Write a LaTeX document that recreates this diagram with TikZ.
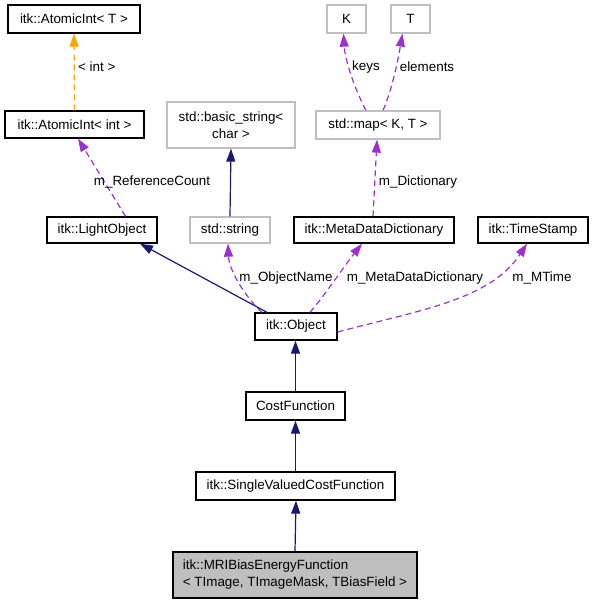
\documentclass[tikz,border=0pt]{standalone}
\usepackage{fontspec}
\setmainfont{Liberation Sans}
\usetikzlibrary{arrows.meta}
\definecolor{navyc}{HTML}{191970}
\definecolor{purp}{HTML}{9A32CD}
\definecolor{orng}{HTML}{FFA500}
\definecolor{lgray}{HTML}{BFBFBF}
\definecolor{fillg}{HTML}{BFBFBF}
\begin{document}
\begin{tikzpicture}[x=1pt,y=-1pt,
  every node/.style={font=\fontsize{13.4}{17}\selectfont},
  cls/.style={draw=black,line width=1.3pt,inner sep=0pt,align=center},
  ext/.style={draw=lgray,line width=1.3pt,inner sep=0pt,align=center},
  lbl/.style={inner sep=0pt},
  inh/.style={-{Triangle[length=13pt,width=9pt,fill=navyc]},draw=navyc,line width=1.2pt},
  use/.style={-{Triangle[length=13pt,width=9pt,fill=purp]},draw=purp,line width=1.2pt,dash pattern=on 6pt off 4pt},
  tmpl/.style={-{Triangle[length=13pt,width=9pt,fill=orng]},draw=orng,line width=1.2pt,dash pattern=on 6pt off 4pt}]
\useasboundingbox (0,0) rectangle (593,605);
% nodes
\node[cls,minimum width=132pt,minimum height=28pt] (ati) at (74,19) {itk::AtomicInt< T >};
\node[cls,minimum width=139pt,minimum height=27pt] (aint) at (74.5,124.5) {itk::AtomicInt< int >};
\node[ext,minimum width=128pt,minimum height=46pt] (bstr) at (231,125) {std::basic\_string<\\char >};
\node[ext,minimum width=39pt,minimum height=28pt] (K) at (346.5,19) {K};
\node[ext,minimum width=39pt,minimum height=28pt] (T) at (410.5,19) {T};
\node[ext,minimum width=124pt,minimum height=28pt] (map) at (378,125) {std::map< K, T >};
\node[cls,minimum width=110pt,minimum height=26pt] (light) at (102,230) {itk::LightObject};
\node[ext,minimum width=80pt,minimum height=26pt] (str) at (230,230) {std::string};
\node[cls,minimum width=160pt,minimum height=26pt] (mdd) at (374,230) {itk::MetaDataDictionary};
\node[cls,minimum width=110pt,minimum height=26pt] (ts) at (533,230) {itk::TimeStamp};
\node[cls,minimum width=82pt,minimum height=27pt] (obj) at (296,326.5) {itk::Object};
\node[cls,minimum width=99pt,minimum height=28pt] (cost) at (295.5,406) {CostFunction};
\node[cls,minimum width=199pt,minimum height=28pt] (svcf) at (295.5,486) {itk::SingleValuedCostFunction};
\node[cls,fill=fillg,minimum width=244pt,minimum height=46pt,align=left] (mri) at (295,575) {itk::MRIBiasEnergyFunction\\< TImage, TImageMask, TBiasField >};
% edges
\draw[tmpl] (aint.north) -- (ati.south);
\draw[use] ([xshift=23.5pt]light.north) -- ([xshift=3.5pt]aint.south);
\draw[inh] (str.north) -- (bstr.south);
\draw[use] ([xshift=-12pt]map.north) .. controls (355,90) and (345,60) .. ([xshift=-3pt]K.south);
\draw[use] ([xshift=5pt]map.north) .. controls (392,90) and (398,60) .. ([xshift=-8pt]T.south);
\draw[use] ([xshift=-1pt]mdd.north) -- ([xshift=-1pt]map.south);
\draw[inh] ([xshift=-29pt]obj.north) -- ([xshift=38pt]light.south);
\draw[use] ([xshift=-34pt]obj.north) .. controls (245,297) and (229,270) .. ([xshift=-2pt]str.south);
\draw[use] ([xshift=14pt]obj.north) .. controls (325,295) and (345,265) .. ([xshift=-12pt]mdd.south);
\draw[use] ([yshift=-5.5pt]obj.east) .. controls (420,310) and (490,300) .. ([xshift=-6pt]ts.south);
\draw[inh] (cost.north) -- ([xshift=-0.5pt]obj.south);
\draw[inh] (svcf.north) -- (cost.north |- cost.south);
\draw[inh] (mri.north) -- ([xshift=0.5pt]svcf.south);
% labels
\node[lbl,anchor=west] (l1) at (78,67) {< int >};
\node[lbl] (l2) at (152,182) {m\_ReferenceCount};
\node[lbl] (l3) at (366,67) {keys};
\node[lbl] (l4) at (427,67) {elements};
\node[lbl] (l5) at (418,182) {m\_Dictionary};
\node[lbl] (l6) at (286,278) {m\_ObjectName};
\node[lbl] (l7) at (415,278) {m\_MetaDataDictionary};
\node[lbl] (l8) at (542,278) {m\_MTime};
\end{tikzpicture}
\end{document}
